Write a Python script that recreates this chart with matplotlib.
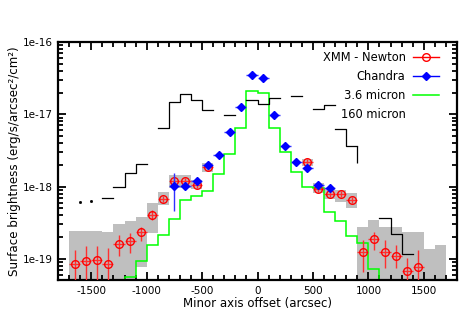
import numpy as np
import matplotlib
matplotlib.use("Agg")
import matplotlib.pyplot as plt
from matplotlib.lines import Line2D
from matplotlib.ticker import MultipleLocator, LogLocator, FixedLocator, NullFormatter

plt.rcParams["font.family"] = ["DejaVu Sans"]
plt.rcParams["axes.unicode_minus"] = False

# ── XMM-Newton profile ────────────────────────────────────────────────────────
xmm_x = [-1650, -1550, -1450, -1350, -1250, -1150, -1050, -950, -850, -750, -650, -550, -450,
         450, 550, 650, 750, 850, 950, 1050, 1150, 1250, 1350, 1450]
xmm_y = [8.5e-20, 9.4e-20, 9.7e-20, 8.4e-20, 1.62e-19, 1.74e-19, 2.34e-19, 4.1e-19, 6.7e-19,
         1.21e-18, 1.21e-18, 1.06e-18, 1.84e-18,
         2.18e-18, 9.2e-19, 7.9e-19, 7.9e-19, 6.5e-19, 1.23e-19, 1.87e-19, 1.26e-19, 1.1e-19,
         6.9e-20, 7.7e-20]
xmm_lo = [1e-21, 1e-21, 1e-21, 1e-21, 1.1e-19, 1.2e-19, 1.79e-19, 3.4e-19, 6.1e-19,
          1.1e-18, 1.1e-18, 9.7e-19, 1.7e-18,
          2.0e-18, 8.4e-19, 7.2e-19, 7.2e-19, 5.9e-19, 6.6e-20, 1.33e-19, 7.5e-20, 7.5e-20,
          1e-21, 1e-21]
xmm_hi = [1.33e-19, 1.5e-19, 1.5e-19, 1.41e-19, 2.14e-19, 2.3e-19, 2.8e-19, 4.7e-19, 7.4e-19,
          1.33e-18, 1.33e-18, 1.16e-18, 2.0e-18,
          2.4e-18, 1.0e-18, 8.7e-19, 8.7e-19, 7.1e-19, 1.82e-19, 2.38e-19, 1.82e-19, 1.56e-19,
          1.03e-19, 1.33e-19]

# systematic boxes behind the XMM points
sys_x = [-1650, -1550, -1450, -1350, -1250, -1150, -1050, -950, -850, -750, -650, -550, -450,
         450, 550, 650, 750, 850, 950, 1050, 1150, 1250, 1350, 1450, 1550, 1650]
sys_lo = [1e-21, 1e-21, 1e-21, 1e-21, 1e-21, 1e-21, 7.8e-20, 2.3e-19, 5.6e-19, 9.5e-19, 9.5e-19,
          9.2e-19, 1.6e-18,
          1.95e-18, 8.1e-19, 6.7e-19, 6.2e-19, 5.0e-19, 1e-21, 1e-21, 1e-21, 1e-21, 1e-21, 1e-21,
          1e-21, 1e-21]
sys_hi = [2.4e-19, 2.4e-19, 2.4e-19, 2.35e-19, 3.0e-19, 3.3e-19, 3.8e-19, 6.0e-19, 8.5e-19,
          1.43e-18, 1.43e-18, 1.23e-18, 2.1e-18,
          2.4e-18, 1.11e-18, 9.2e-19, 8.9e-19, 8.1e-19, 2.8e-19, 3.4e-19, 2.75e-19, 2.75e-19,
          2.35e-19, 2.35e-19, 1.37e-19, 1.56e-19]

# ── Chandra profile ───────────────────────────────────────────────────────────
chandra_x = [-750, -650, -550, -450, -350, -250, -150, -50, 50, 150, 250, 350, 450, 550, 650]
chandra_y = [1.02e-18, 1.03e-18, 1.2e-18, 1.97e-18, 2.75e-18, 5.7e-18, 1.27e-17, 3.5e-17,
             3.15e-17, 9.8e-18, 3.7e-18, 2.17e-18, 1.78e-18, 1.05e-18, 9.5e-19]
chandra_lo = [4.6e-19, 9.3e-19, 1.1e-18, 1.85e-18, 2.6e-18, 5.4e-18, 1.21e-17, 3.35e-17,
              3.0e-17, 9.3e-18, 3.5e-18, 2.05e-18, 1.68e-18, 9.6e-19, 8.6e-19]
chandra_hi = [1.55e-18, 1.13e-18, 1.3e-18, 2.1e-18, 2.9e-18, 6.0e-18, 1.33e-17, 3.65e-17,
              3.3e-17, 1.03e-17, 3.9e-18, 2.3e-18, 1.88e-18, 1.15e-18, 1.05e-18]

# ── 3.6 micron (step, 100" bins) ──────────────────────────────────────────────
irac_edges = np.arange(-1300, 1201, 100)
irac_vals = [1e-22, 5.7e-20, 9.3e-20, 1.55e-19, 2.14e-19, 3.6e-19, 6.5e-19, 7.3e-19, 8.8e-19,
             1.49e-18, 2.8e-18, 6.4e-18, 2.1e-17, 2.0e-17, 6.4e-18, 3.0e-18, 1.6e-18, 1.0e-18,
             9.5e-19, 4.5e-19, 3.3e-19, 2.07e-19, 1.64e-19, 7.2e-20, 1e-22]

# ── 160 micron (step, broken into runs) ───────────────────────────────────────
mips_start = [-1400, -1300, -900, -300, -100, 300, 500, 700, 1100]
mips_vals = [[6.9e-19],
             [1.0e-18, 1.56e-18, 2.04e-18],
             [6.5e-18, 1.47e-17, 1.9e-17, 1.56e-17, 1.15e-17],
             [9.8e-18],
             [1.58e-17, 1.39e-17, 1.66e-17],
             [1.77e-17],
             [1.18e-17, 1.36e-17],
             [6.2e-18, 3.6e-18],
             [3.65e-19, 2.19e-19, 1.16e-19]]
mips_drop_x, mips_drop_y = 900, 2.1e-18
mips_dot_x = [-1600, -1500]
mips_dot_y = [6.1e-19, 6.4e-19]

y_ticks = [1e-19, 1e-18, 1e-17, 1e-16]
y_ticklabels = ["1e-19", "1e-18", "1e-17", "1e-16"]

fig = plt.figure(figsize=(4.77, 3.35), dpi=100)
ax = fig.add_axes([0.1216, 0.1642, 0.8366, 0.7104])
ax.set_yscale("log")

ax.bar(sys_x, np.array(sys_hi) - np.array(sys_lo), bottom=sys_lo, width=100,
       color="#bfbfbf", linewidth=0, zorder=1)

ax.stairs(irac_vals, irac_edges, color="#00ff00", lw=1.1, baseline=None, zorder=2)

for x0, vals in zip(mips_start, mips_vals):
    edges = x0 + 100 * np.arange(len(vals) + 1)
    ax.step(edges, list(vals) + [vals[-1]], where="post", color="black", lw=0.9, zorder=2)
ax.vlines(mips_drop_x, mips_drop_y, mips_vals[7][-1], color="black", lw=0.9, zorder=2)
ax.plot(mips_dot_x, mips_dot_y, "s", ms=1.0, color="black", zorder=2)

xmm_y_a = np.array(xmm_y)
ax.errorbar(xmm_x, xmm_y, xerr=50,
            yerr=[xmm_y_a - np.array(xmm_lo), np.array(xmm_hi) - xmm_y_a],
            fmt="o", mfc="none", mec="red", ms=5.5, mew=1.0, ecolor="#ff3030",
            elinewidth=1.0, capsize=0, zorder=4)

ch_y_a = np.array(chandra_y)
ax.errorbar(chandra_x, chandra_y, xerr=50,
            yerr=[ch_y_a - np.array(chandra_lo), np.array(chandra_hi) - ch_y_a],
            fmt="D", color="blue", ms=4, ecolor="#3030ff", elinewidth=1.0, capsize=0, zorder=5)

ax.set_xlim(-1800, 1800)
ax.set_ylim(5.1e-20, 1e-16)

ax.xaxis.set_major_locator(MultipleLocator(500))
ax.xaxis.set_minor_locator(MultipleLocator(100))
ax.yaxis.set_major_locator(FixedLocator(y_ticks))
ax.yaxis.set_minor_locator(LogLocator(base=10, subs=np.arange(2, 10)))
ax.yaxis.set_minor_formatter(NullFormatter())
ax.set_yticks(y_ticks)
ax.set_yticklabels(y_ticklabels)

ax.tick_params(which="both", direction="in", top=True, right=True, labelsize=7.5, width=1.3,
               pad=4)
ax.tick_params(which="major", length=6)
ax.tick_params(which="minor", length=3.5)
for s in ax.spines.values():
    s.set_linewidth(1.6)

ax.set_xlabel("Minor axis offset (arcsec)", fontsize=8.5, labelpad=1)
ax.set_ylabel("Surface brightness (erg/s/arcsec²/cm²)", fontsize=8.6, labelpad=1)

handles = [
    Line2D([], [], color="red", marker="o", mfc="none", mec="red", ms=5.5, lw=1.0),
    Line2D([], [], color="blue", marker="D", ms=4, lw=1.0),
    Line2D([], [], color="#00ff00", lw=1.1),
    Line2D([], [], color="none"),
]
labels = ["XMM - Newton", "Chandra", "3.6 micron", "160 micron"]
ax.legend(handles, labels, loc="upper right", bbox_to_anchor=(0.975, 0.995), frameon=False,
          markerfirst=False, fontsize=8.3, handlelength=2.3, handletextpad=0.6,
          labelspacing=0.5, borderpad=0.2)

fig.savefig("out.png", dpi=100)
